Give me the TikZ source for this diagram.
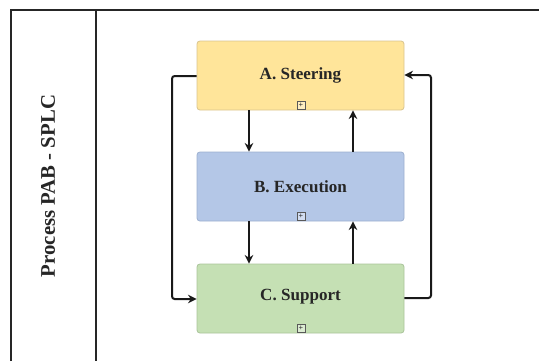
\documentclass[tikz,border=0pt]{standalone}
\usepackage{fontspec}
\setmainfont{Liberation Serif}
\usetikzlibrary{arrows.meta}
\definecolor{steerfill}{HTML}{FFE59A}
\definecolor{steerdraw}{HTML}{D9C48E}
\definecolor{execfill}{HTML}{B4C7E7}
\definecolor{execdraw}{HTML}{9DB0D0}
\definecolor{suppfill}{HTML}{C5E0B4}
\definecolor{suppdraw}{HTML}{A9C49A}
\tikzset{
  frameline/.style={line width=1.5pt, draw=black!85},
  procbox/.style={rounded corners=2.2pt, line width=0.6pt, minimum width=155.25pt, minimum height=51.75pt},
  steplabel/.style={font=\bfseries\fontsize{12.8}{14}\selectfont, text=black!85},
  flow/.style={line width=1.5pt, draw=black!90, -{Stealth[length=6.5pt,width=6.5pt]}},
  expander/.style={draw=black!65, line width=0.45pt, minimum size=6pt, inner sep=0pt,
    font=\bfseries\fontsize{6}{6}\selectfont, text=black!80},
}
\begin{document}
\begin{tikzpicture}[x=0.75pt, y=-0.75pt]
  \useasboundingbox (0,0) rectangle (539,361);
  % pool frame and lane divider
  \draw[frameline] (11,361) -- (11,10) -- (539,10);
  \draw[frameline] (96,10) -- (96,361);
  \node[rotate=90, font=\bfseries\fontsize{15.6}{17}\selectfont, text=black!85] (title) at (48,186) {Process PAB - SPLC};

  % process steps
  \node[procbox, fill=steerfill, draw=steerdraw] (A) at (300.5,75.5) {};
  \node[procbox, fill=execfill, draw=execdraw] (B) at (300.5,186.5) {};
  \node[procbox, fill=suppfill, draw=suppdraw] (C) at (300.5,298.5) {};
  \node[steplabel] (Al) at (300.5,75) {A. Steering};
  \node[steplabel] (Bl) at (300.5,187) {B. Execution};
  \node[steplabel] (Cl) at (300.5,297) {C. Support};
  \node[expander, fill=steerfill!60!white] (Ax) at (301,105) {+};
  \node[expander, fill=execfill!60!white] (Bx) at (301,216) {+};
  \node[expander, fill=suppfill!60!white] (Cx) at (301,328) {+};

  % flows between the steps
  \draw[flow] (A.south -| 249,0) -- (B.north -| 249,0);
  \draw[flow] (B.north -| 353,0) -- (A.south -| 353,0);
  \draw[flow] (B.south -| 249,0) -- (C.north -| 249,0);
  \draw[flow] (C.north -| 353,0) -- (B.south -| 353,0);

  % feedback loops around the steps
  \coordinate (lt) at (172,76);
  \coordinate (lb) at (172,299);
  \coordinate (rt) at (431,75);
  \coordinate (rb) at (431,298);
  \draw[flow, rounded corners=2pt] (A.west |- lt) -- (lt) -- (lb) -- (C.west |- lb);
  \draw[flow, rounded corners=2pt] (C.east |- rb) -- (rb) -- (rt) -- (A.east |- rt);
\end{tikzpicture}
\end{document}
